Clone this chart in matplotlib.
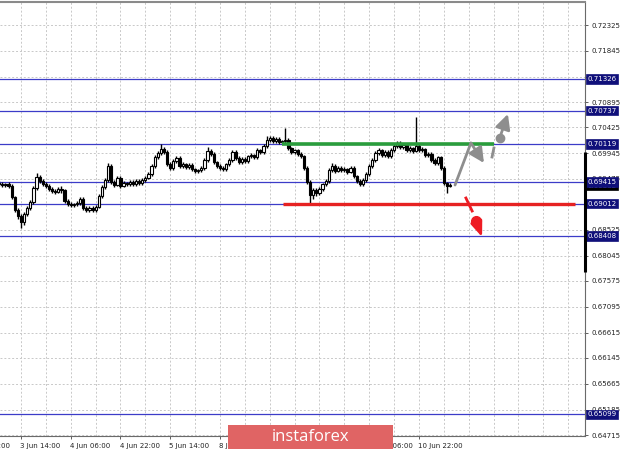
import matplotlib
matplotlib.use("Agg")
import matplotlib.pyplot as plt
from matplotlib.patches import Rectangle
from matplotlib.transforms import blended_transform_factory

# H1 closes, bar 0 = 3 Jun 07:00
closes = [0.6937, 0.6936, 0.6937, 0.6934, 0.6913, 0.6889, 0.6878, 0.6867, 0.6882, 0.6893,
          0.6904, 0.6930, 0.6950, 0.6943, 0.6937, 0.6934, 0.6928, 0.6924, 0.6923, 0.6928,
          0.6926, 0.6906, 0.6900, 0.6898, 0.6900, 0.6902, 0.6910, 0.6893, 0.6889, 0.6893,
          0.6889, 0.6895, 0.6915, 0.6932, 0.6945, 0.6971, 0.6941, 0.6936, 0.6949, 0.6934,
          0.6939, 0.6937, 0.6941, 0.6937, 0.6943, 0.6939, 0.6945, 0.6949, 0.6956, 0.6971,
          0.6987, 0.6995, 0.7002, 0.6997, 0.6974, 0.6967, 0.6980, 0.6986, 0.6971, 0.6974,
          0.6969, 0.6973, 0.6965, 0.6962, 0.6963, 0.6967, 0.6982, 0.6999, 0.6993, 0.6978,
          0.6971, 0.6967, 0.6965, 0.6974, 0.6982, 0.6997, 0.6986, 0.6978, 0.6984, 0.6980,
          0.6989, 0.6991, 0.6987, 0.7000, 0.6997, 0.7008, 0.7019, 0.7023, 0.7017, 0.7021,
          0.7015, 0.7017, 0.7019, 0.7004, 0.6997, 0.7000, 0.6993, 0.6989, 0.6967, 0.6941,
          0.6917, 0.6926, 0.6921, 0.6928, 0.6937, 0.6943, 0.6963, 0.6971, 0.6962, 0.6967,
          0.6963, 0.6965, 0.6960, 0.6967, 0.6952, 0.6943, 0.6937, 0.6945, 0.6956, 0.6971,
          0.6982, 0.6995, 0.7000, 0.6991, 0.6997, 0.6989, 0.7000, 0.7008, 0.7014, 0.7006,
          0.7010, 0.7000, 0.7004, 0.6999, 0.7008, 0.7000, 0.7002, 0.6991, 0.6993, 0.6982,
          0.6976, 0.6987, 0.6967, 0.6939, 0.6934, 0.6936]

highs = [0.6943, 0.6941, 0.6940, 0.6941, 0.6937, 0.6916, 0.6893, 0.6881, 0.6886, 0.6897,
         0.6908, 0.6934, 0.6958, 0.6954, 0.6946, 0.6941, 0.6938, 0.6931, 0.6928, 0.6932,
         0.6934, 0.6929, 0.6909, 0.6904, 0.6903, 0.6906, 0.6914, 0.6913, 0.6897, 0.6896,
         0.6897, 0.6899, 0.6918, 0.6935, 0.6948, 0.6976, 0.6974, 0.6945, 0.6953, 0.6952,
         0.6943, 0.6942, 0.6945, 0.6944, 0.6946, 0.6947, 0.6948, 0.6952, 0.6960, 0.6974,
         0.6991, 0.6999, 0.7012, 0.7006, 0.7000, 0.6978, 0.6984, 0.6990, 0.6989, 0.6978,
         0.6977, 0.6977, 0.6976, 0.6968, 0.6966, 0.6970, 0.6985, 0.7006, 0.7003, 0.6996,
         0.6981, 0.6975, 0.6970, 0.6977, 0.6985, 0.7001, 0.7000, 0.6989, 0.6987, 0.6988,
         0.6992, 0.6995, 0.6994, 0.7004, 0.7003, 0.7011, 0.7026, 0.7027, 0.7026, 0.7024,
         0.7024, 0.7020, 0.7041, 0.7022, 0.7007, 0.7003, 0.7003, 0.6996, 0.6992, 0.6970,
         0.6944, 0.6930, 0.6930, 0.6932, 0.6940, 0.6947, 0.6967, 0.6976, 0.6974, 0.6971,
         0.6970, 0.6969, 0.6968, 0.6971, 0.6970, 0.6955, 0.6946, 0.6948, 0.6959, 0.6974,
         0.6985, 0.6999, 0.7004, 0.7003, 0.7001, 0.7000, 0.7004, 0.7012, 0.7018, 0.7017,
         0.7014, 0.7013, 0.7008, 0.7007, 0.7062, 0.7012, 0.7006, 0.7005, 0.6997, 0.6996,
         0.6985, 0.6990, 0.6990, 0.6970, 0.6942, 0.6939]

lows = [0.6934, 0.6932, 0.6931, 0.6930, 0.6910, 0.6885, 0.6872, 0.6856, 0.6862, 0.6878,
        0.6889, 0.6901, 0.6926, 0.6939, 0.6933, 0.6930, 0.6924, 0.6920, 0.6919, 0.6920,
        0.6921, 0.6902, 0.6896, 0.6894, 0.6895, 0.6896, 0.6899, 0.6889, 0.6885, 0.6885,
        0.6885, 0.6886, 0.6892, 0.6912, 0.6929, 0.6942, 0.6937, 0.6932, 0.6933, 0.6930,
        0.6931, 0.6933, 0.6934, 0.6933, 0.6934, 0.6935, 0.6936, 0.6942, 0.6946, 0.6953,
        0.6968, 0.6984, 0.6991, 0.6993, 0.6970, 0.6963, 0.6964, 0.6976, 0.6967, 0.6967,
        0.6965, 0.6966, 0.6961, 0.6958, 0.6958, 0.6960, 0.6964, 0.6979, 0.6989, 0.6974,
        0.6967, 0.6963, 0.6961, 0.6962, 0.6971, 0.6979, 0.6982, 0.6974, 0.6975, 0.6976,
        0.6977, 0.6985, 0.6983, 0.6984, 0.6993, 0.6994, 0.7005, 0.7015, 0.7013, 0.7014,
        0.7011, 0.7012, 0.7013, 0.7000, 0.6993, 0.6993, 0.6989, 0.6985, 0.6963, 0.6937,
        0.6898, 0.6910, 0.6915, 0.6917, 0.6924, 0.6933, 0.6940, 0.6960, 0.6958, 0.6959,
        0.6959, 0.6960, 0.6956, 0.6957, 0.6948, 0.6939, 0.6933, 0.6934, 0.6942, 0.6953,
        0.6968, 0.6979, 0.6991, 0.6987, 0.6988, 0.6985, 0.6986, 0.6997, 0.7005, 0.7002,
        0.7003, 0.6996, 0.6997, 0.6995, 0.6996, 0.6996, 0.6997, 0.6987, 0.6988, 0.6978,
        0.6972, 0.6973, 0.6963, 0.6935, 0.6921, 0.6931]

first_open = 0.6939

# horizontal levels and their labels
levels = [0.71326, 0.70737, 0.70119, 0.69415, 0.69012, 0.68408, 0.65099]
level_labels = ["0.71326", "0.70737", "0.70119", "0.69415", "0.69012", "0.68408", "0.65099"]
bid_price = 0.69362

# price scale ticks (labels hidden under level boxes are left blank)
price_ticks = [0.64715, 0.65185, 0.65665, 0.66145, 0.66615, 0.67095, 0.67575, 0.68045,
               0.68525, 0.69005, 0.69475, 0.69945, 0.70425, 0.70895, 0.71365, 0.71845, 0.72325]
price_tick_labels = ["0.64715", "0.65185", "0.65665", "0.66145", "0.66615", "0.67095", "0.67575",
                     "0.68045", "0.68525", "", "0.69475", "0.69945", "0.70425", "0.70895", "",
                     "0.71845", "0.72325"]

# time labels (bar index, text)
time_idx = [-9, 7, 23, 39, 55, 71, 87, 103, 119, 135]
time_labels = ["2 Jun 22:00", "3 Jun 14:00", "4 Jun 06:00", "4 Jun 22:00", "5 Jun 14:00",
               "8 Jun 06:00", "8 Jun 22:00", "9 Jun 14:00", "10 Jun 06:00", "10 Jun 22:00"]

# drawn support / resistance segments (start bar, end bar, price)
green_seg = (90.9, 159.1, 0.70119)
red_seg = (91.3, 185.2, 0.69012)

# forecast sketches
gray_path_x = [146.6, 151.7, 155.9]
gray_path_y = [0.69355, 0.70135, 0.69764]
gray_dash_x = [158.5, 159.1]
gray_dash_y = [0.69875, 0.70042]
gray_dot = (161.1, 0.70228)
gray_up_x = [161.4, 163.6]
gray_up_y = [0.70302, 0.70673]
red_dash_x = [150.1, 152.1]
red_dash_y = [0.69114, 0.68873]
red_dot = (153.3, 0.68687)
red_down_x = [153.4, 155.3]
red_down_y = [0.68680, 0.68390]

W, H = 620, 454
fig = plt.figure(figsize=(W / 100, H / 100), dpi=100)
fig.patch.set_facecolor("white")
ax = fig.add_axes([0 / W, 1 - 436 / H, 585 / W, 434 / H])

ax.set_xlim(0.245, 188.4)
ax.set_ylim(0.64697, 0.72752)

# grid
for gx in range(7, 189, 8):
    ax.axvline(gx, color="#c8c8c8", lw=0.7, ls=(0, (2, 2)), zorder=0)
for gy in price_ticks:
    ax.axhline(gy, color="#c8c8c8", lw=0.7, ls=(0, (2, 2)), zorder=0)

# level lines
for lv in levels:
    ax.axhline(lv, color="#3c3cc8", lw=0.9, zorder=1)

# candles
opens = [first_open] + closes[:-1]
idx = list(range(len(closes)))
ax.vlines(idx, lows, highs, color="black", lw=1.0, zorder=3)
for i in idx:
    o, c = opens[i], closes[i]
    fc = "white" if c >= o else "black"
    ax.add_patch(Rectangle((i - 0.36, min(o, c)), 0.72, max(abs(c - o), 0.00003),
                           facecolor=fc, edgecolor="black", lw=0.8, zorder=4))

# green / red segments
ax.plot(green_seg[:2], [green_seg[2]] * 2, color="#2a9d3c", lw=2.6, zorder=5, solid_capstyle="butt")
ax.plot(red_seg[:2], [red_seg[2]] * 2, color="#e62222", lw=2.4, zorder=5, solid_capstyle="butt")

# gray scenario
gray = "#8e8e8e"
ax.plot(gray_path_x[:2], gray_path_y[:2], color=gray, lw=2.0, zorder=6, solid_capstyle="round")
ax.annotate("", xy=(gray_path_x[2], gray_path_y[2]), xytext=(gray_path_x[1], gray_path_y[1]),
            arrowprops=dict(arrowstyle="-|>,head_length=0.9,head_width=0.45", color=gray, lw=2.0,
                            shrinkA=0, shrinkB=0), zorder=6)
ax.plot(gray_dash_x, gray_dash_y, color=gray, lw=2.0, zorder=6)
ax.plot(*gray_dot, "o", color=gray, ms=6, zorder=6)
ax.annotate("", xy=(gray_up_x[1], gray_up_y[1]), xytext=(gray_up_x[0], gray_up_y[0]),
            arrowprops=dict(arrowstyle="-|>,head_length=0.9,head_width=0.45", color=gray, lw=2.0,
                            shrinkA=0, shrinkB=0), zorder=6)

# red scenario
red = "#ee1c24"
ax.plot(red_dash_x, red_dash_y, color=red, lw=2.0, zorder=6)
ax.plot(*red_dot, "o", color=red, ms=7, zorder=6)
ax.annotate("", xy=(red_down_x[1], red_down_y[1]), xytext=(red_down_x[0], red_down_y[0]),
            arrowprops=dict(arrowstyle="-|>,head_length=0.9,head_width=0.35", color=red, lw=2.0,
                            shrinkA=0, shrinkB=0), zorder=6)

# axes styling
ax.spines["left"].set_visible(False)
ax.spines["top"].set_color("#8a8a8a")
ax.spines["top"].set_linewidth(1.5)
ax.spines["right"].set_color("#6a6a6a")
ax.spines["bottom"].set_color("#6a6a6a")

font = "DejaVu Sans"
ax.yaxis.tick_right()
ax.set_yticks(price_ticks)
ax.set_yticklabels(price_tick_labels, fontsize=5, family=font, color="#222222")
ax.tick_params(axis="y", length=2.5, width=0.6, pad=2, color="#444444")
ax.set_xticks([t for t in time_idx if t > 0])
ax.set_xticklabels([])
ax.tick_params(axis="x", length=2.5, width=0.6, color="#444444")

tb = blended_transform_factory(ax.transData, ax.transAxes)
for t, lab in zip(time_idx, time_labels):
    ax.text(t - 0.3, -0.022, lab, transform=tb, ha="left", va="center", fontsize=5,
            family=font, color="#222222", clip_on=False)

# bid label and level labels on the price scale
tr = blended_transform_factory(ax.transAxes, ax.transData)
ax.text(1.004, bid_price - 0.0002, f"{bid_price:.5f}", transform=tr, ha="left", va="center",
        fontsize=5, family=font, color="white", clip_on=False, zorder=7,
        bbox=dict(boxstyle="square,pad=0.25", fc="black", ec="black", lw=0.5))
for lv, lab in zip(levels, level_labels):
    ax.text(1.004, lv, lab, transform=tr, ha="left", va="center", fontsize=5, family=font,
            color="white", clip_on=False, zorder=8,
            bbox=dict(boxstyle="square,pad=0.25", fc="#10107a", ec="#10107a", lw=0.5))

# thick marker on the price scale
ax.plot([1.0, 1.0], [0.69968, 0.67741], transform=tr, color="black", lw=2.2,
        clip_on=False, zorder=9, solid_capstyle="butt")

# watermark
fig.patches.append(Rectangle((228 / W, 1 - 449 / H), 165 / W, 24 / H, transform=fig.transFigure,
                             facecolor="#e06464", edgecolor="none", zorder=10))
fig.text(311 / W, 1 - 437 / H, "instaforex", ha="center", va="center", fontsize=12,
         family="Open Sans", color="white", zorder=11)

fig.savefig("out.png", dpi=100)
